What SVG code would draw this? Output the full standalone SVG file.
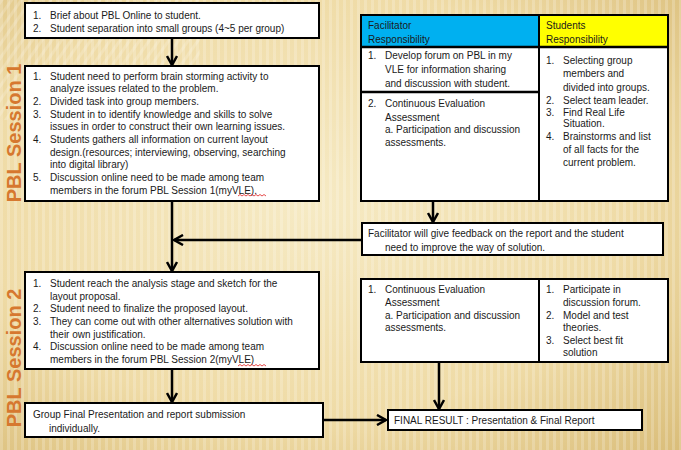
<svg xmlns="http://www.w3.org/2000/svg" width="681" height="450" viewBox="0 0 681 450">
<style>
.box{fill:#fff;stroke:#000;stroke-width:2}
.t{font-family:"Liberation Sans",Arial,sans-serif;font-size:10px;fill:#1a1a1a}
.lbl{font-family:"Liberation Sans",Arial,sans-serif;font-size:20px;font-weight:bold;fill:#d6782f}
.con{stroke:#000;stroke-width:2.5;fill:none;marker-end:url(#ah)}
.sq{stroke:#e02020;stroke-width:0.8;fill:none}
</style>
<defs>
<radialGradient id="bg" cx="0.45" cy="0.45" r="0.8">
<stop offset="0" stop-color="#f6eac4"/>
<stop offset="0.6" stop-color="#efdba6"/>
<stop offset="1" stop-color="#d8bb76"/>
</radialGradient>
<pattern id="stripes" width="7" height="10" patternUnits="userSpaceOnUse">
<rect width="3" height="10" fill="#ffffff" opacity="0.2"/>
</pattern>
<pattern id="diag" width="8" height="8" patternUnits="userSpaceOnUse" patternTransform="rotate(35)">
<rect width="3" height="8" fill="#ffffff" opacity="0.3"/>
</pattern>
<linearGradient id="oline" x1="0" x2="1">
<stop offset="0" stop-color="#f0a830"/>
<stop offset="1" stop-color="#f0a830" stop-opacity="0"/>
</linearGradient>
<marker id="ah" viewBox="0 0 12 12" refX="10" refY="6" markerWidth="12" markerHeight="12" markerUnits="userSpaceOnUse" orient="auto">
<path d="M1,1 L10,6 L1,11" stroke="#000" stroke-width="2.5" fill="none"/>
</marker>
</defs>

<rect width="681" height="450" fill="url(#bg)"/>
<rect width="681" height="450" fill="url(#stripes)"/>
<rect width="200" height="120" fill="url(#diag)" opacity="0.6"/>
<line x1="318" y1="16" x2="380" y2="16" stroke="url(#oline)" stroke-width="1.5"/>

<text class="lbl" transform="translate(21,133) rotate(-90)" text-anchor="middle">PBL Session 1</text>
<text class="lbl" transform="translate(21,358) rotate(-90)" text-anchor="middle">PBL Session 2</text>

<g id="connectors">
<line class="con" x1="172" y1="38" x2="172" y2="65"/>
<line class="con" x1="172" y1="201" x2="172" y2="271"/>
<line class="con" x1="362" y1="240" x2="174" y2="240"/>
<line class="con" x1="433" y1="201" x2="433" y2="222"/>
<line class="con" x1="172" y1="369" x2="172" y2="402"/>
<line class="con" x1="323" y1="420" x2="386" y2="420"/>
<line class="con" x1="439" y1="362" x2="439" y2="409"/>
</g>

<g id="intro">
<rect class="box" x="25" y="3" width="294" height="35"/>
<text class="t" x="33" y="18.5">1.</text><text class="t" x="50" y="18.5">Brief about PBL Online to student.</text>
<text class="t" x="33" y="32">2.</text><text class="t" x="50" y="32">Student separation into small groups (4~5 per group)</text>
</g>

<g id="session1">
<rect class="box" x="25" y="66" width="294" height="135"/>
<text class="t" x="33" y="79.5">1.</text><text class="t" x="50" y="79.5">Student need to perform brain storming activity to</text>
<text class="t" x="50" y="92.2">analyze issues related to the problem.</text>
<text class="t" x="33" y="104.9">2.</text><text class="t" x="50" y="104.9">Divided task into  group members.</text>
<text class="t" x="33" y="117.6">3.</text><text class="t" x="50" y="117.6">Student in to  identify knowledge and skills to solve</text>
<text class="t" x="50" y="130.3">issues in order to construct their own learning issues.</text>
<text class="t" x="33" y="143">4.</text><text class="t" x="50" y="143">Students gathers all  information on current layout</text>
<text class="t" x="50" y="155.7">design.(resources; interviewing, observing, searching</text>
<text class="t" x="50" y="168.4">into digital library)</text>
<text class="t" x="33" y="181.1">5.</text><text class="t" x="50" y="181.1">Discussion online need to be made among team</text>
<text class="t" x="50" y="193.8">members in the forum PBL Session 1(myVLE).</text>
<path class="sq" d="M238,196 l2,-1.5 l2,1.5 l2,-1.5 l2,1.5 l2,-1.5 l2,1.5 l2,-1.5 l2,1.5 l2,-1.5 l2,1.5 l2,-1.5 l2,1.5 l2,-1.5 l2,1.5"/>
</g>

<g id="responsibility1">
<rect x="361" y="15" width="178" height="32" fill="#00b0f0"/>
<rect x="539" y="15" width="129" height="32" fill="#ffff00"/>
<rect x="361" y="47" width="307" height="154" fill="#fff"/>
<rect x="361" y="15" width="307" height="186" fill="none" stroke="#000" stroke-width="2"/>
<line x1="361" y1="47" x2="668" y2="47" stroke="#000" stroke-width="2.5"/>
<line x1="539" y1="15" x2="539" y2="201" stroke="#000" stroke-width="2"/>
<line x1="361" y1="92" x2="539" y2="92" stroke="#000" stroke-width="2.5"/>
<text class="t" x="368" y="28.5">Facilitator</text>
<text class="t" x="368" y="42.5">Responsibility</text>
<text class="t" x="546" y="28.5">Students</text>
<text class="t" x="546" y="42.5">Responsibility</text>
<text class="t" x="368" y="58.5">1.</text><text class="t" x="385" y="58.5">Develop forum  on PBL in my</text>
<text class="t" x="385" y="73">VLE for information sharing</text>
<text class="t" x="385" y="87">and discussion with student.</text>
<text class="t" x="368" y="106.5">2.</text><text class="t" x="385" y="106.5">Continuous Evaluation</text>
<text class="t" x="385" y="120.5">Assessment</text>
<text class="t" x="385" y="132.5">a.  Participation and discussion</text>
<text class="t" x="385" y="145.5">assessments.</text>
<text class="t" x="546" y="63.5">1.</text><text class="t" x="563" y="63.5">Selecting group</text>
<text class="t" x="563" y="76.5">members and</text>
<text class="t" x="563" y="90.5">divided into groups.</text>
<text class="t" x="546" y="103.5">2.</text><text class="t" x="563" y="103.5">Select team leader.</text>
<text class="t" x="546" y="115.5">3.</text><text class="t" x="563" y="115.5">Find Real Life</text>
<text class="t" x="563" y="126.5">Situation.</text>
<text class="t" x="546" y="139.5">4.</text><text class="t" x="563" y="139.5">Brainstorms and list</text>
<text class="t" x="563" y="152.5">of all facts for the</text>
<text class="t" x="563" y="165.5">current  problem.</text>
</g>

<g id="feedback">
<rect class="box" x="362" y="223" width="301" height="32"/>
<text class="t" x="368" y="236.5">Facilitator will give feedback on the report and the student</text>
<text class="t" x="385" y="250.5">need to improve the way of solution.</text>
</g>

<g id="session2">
<rect class="box" x="25" y="272" width="294" height="97"/>
<text class="t" x="33" y="286.8">1.</text><text class="t" x="50" y="286.8">Student reach the analysis stage and sketch for the</text>
<text class="t" x="50" y="299.5">layout proposal.</text>
<text class="t" x="33" y="312.2">2.</text><text class="t" x="50" y="312.2">Student need to finalize the proposed layout.</text>
<text class="t" x="33" y="324.9">3.</text><text class="t" x="50" y="324.9">They can come out with other alternatives solution with</text>
<text class="t" x="50" y="337.6">their own justification.</text>
<text class="t" x="33" y="350.3">4.</text><text class="t" x="50" y="350.3">Discussion online need to be made among team</text>
<text class="t" x="50" y="363">members in the forum PBL Session 2(myVLE)</text>
<path class="sq" d="M238,366 l2,-1.5 l2,1.5 l2,-1.5 l2,1.5 l2,-1.5 l2,1.5 l2,-1.5 l2,1.5 l2,-1.5 l2,1.5 l2,-1.5 l2,1.5 l2,-1.5 l2,1.5"/>
</g>

<g id="responsibility2">
<rect x="361" y="279" width="307" height="83" fill="#fff" stroke="#000" stroke-width="2"/>
<line x1="539" y1="279" x2="539" y2="362" stroke="#000" stroke-width="2"/>
<text class="t" x="368" y="292.5">1.</text><text class="t" x="385" y="292.5">Continuous Evaluation</text>
<text class="t" x="385" y="306">Assessment</text>
<text class="t" x="385" y="318.5">a.  Participation and discussion</text>
<text class="t" x="385" y="330.5">assessments.</text>
<text class="t" x="546" y="292.5">1.</text><text class="t" x="563" y="292.5">Participate in</text>
<text class="t" x="563" y="306">discussion forum.</text>
<text class="t" x="546" y="318.5">2.</text><text class="t" x="563" y="318.5">Model and test</text>
<text class="t" x="563" y="330.5">theories.</text>
<text class="t" x="546" y="343.5">3.</text><text class="t" x="563" y="343.5">Select best fit</text>
<text class="t" x="563" y="355.5">solution</text>
</g>

<g id="group-final">
<rect class="box" x="25" y="403" width="298" height="34"/>
<text class="t" x="33" y="417.5">Group Final Presentation and report submission</text>
<text class="t" x="49" y="431.5">individually.</text>
</g>

<g id="final-result">
<rect class="box" x="388" y="410" width="254" height="20"/>
<text class="t" x="394" y="423.5">FINAL RESULT : Presentation &amp; Final Report</text>
</g>
</svg>
